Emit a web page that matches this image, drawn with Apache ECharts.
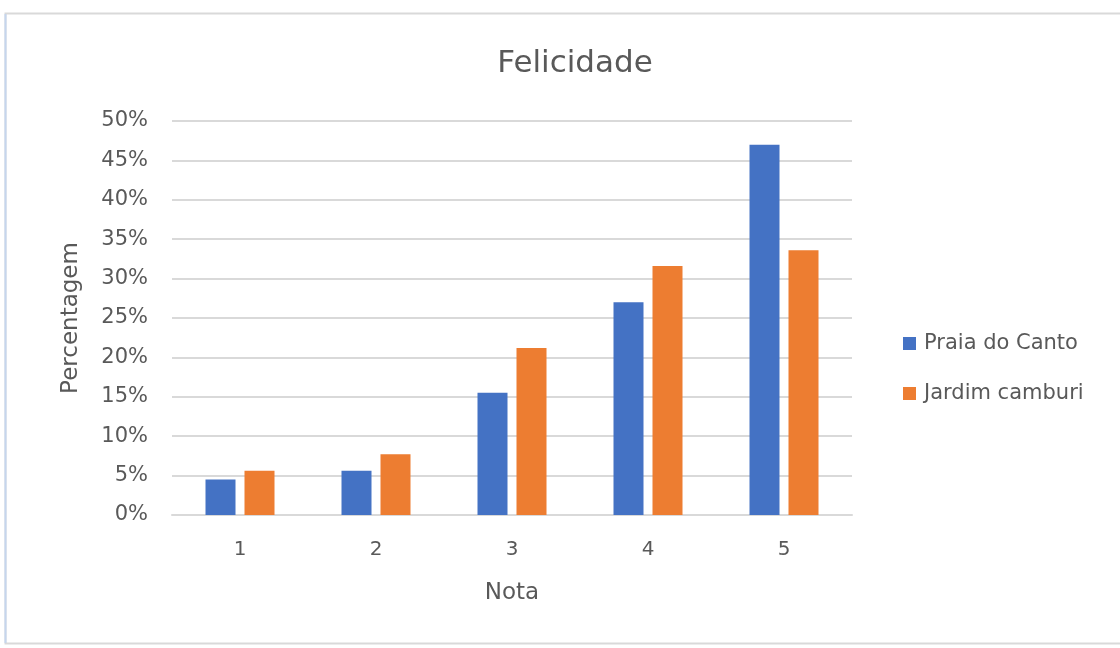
<!DOCTYPE html>
<html>
<head>
<meta charset="utf-8">
<script src="https://cdn.jsdelivr.net/npm/echarts@6/dist/echarts.min.js"></script>
<style>
  html, body { margin: 0; padding: 0; background: #fff; }
  #chart { width: 1120px; height: 648px; }
</style>
</head>
<body>
<div id="chart"></div>
<script>
// Happiness scores (1–5) by neighbourhood, share of respondents in percent
const categories = ['1', '2', '3', '4', '5'];
const praiaDoCanto = [4.5, 5.6, 15.5, 27.0, 47.0];
const jardimCamburi = [5.6, 7.7, 21.2, 31.6, 33.6];
const seriesNames = ['Praia do Canto', 'Jardim camburi'];

const textColor = '#595959';
const fontFamily = '"DejaVu Sans", "Open Sans", sans-serif';

const chart = echarts.init(document.getElementById('chart'), null, { renderer: 'canvas' });

chart.setOption({
  backgroundColor: '#ffffff',
  animation: false,
  textStyle: { fontFamily: fontFamily },
  graphic: [
    {
      type: 'rect',
      shape: { x: 5.5, y: 13.5, width: 1120, height: 630 },
      style: { fill: 'none', stroke: '#d9d9d9', lineWidth: 2 },
      silent: true
    },
    {
      type: 'line',
      shape: { x1: 5.5, y1: 14, x2: 5.5, y2: 643 },
      style: { stroke: '#c5d6ee', lineWidth: 2 },
      silent: true
    }
  ],
  title: {
    text: 'Felicidade',
    left: 570,
    top: 43,
    textAlign: 'center',
    textStyle: { color: textColor, fontSize: 31, fontWeight: 'normal', fontFamily: fontFamily }
  },
  legend: {
    orient: 'vertical',
    left: 903,
    top: 333,
    padding: 0,
    itemWidth: 13,
    itemHeight: 13,
    itemGap: 29,
    icon: 'rect',
    data: seriesNames,
    textStyle: { color: textColor, fontSize: 21, fontFamily: fontFamily, padding: [0, 0, 0, 3] }
  },
  grid: { left: 172, right: 268, top: 121, bottom: 133 },
  xAxis: {
    type: 'category',
    data: categories,
    name: 'Nota',
    nameLocation: 'middle',
    nameGap: 67,
    nameTextStyle: { color: textColor, fontSize: 23, fontFamily: fontFamily },
    axisLine: { show: true, lineStyle: { color: '#d9d9d9', width: 2 } },
    axisTick: { show: false },
    axisLabel: { color: textColor, fontSize: 20, margin: 25, fontFamily: fontFamily }
  },
  yAxis: {
    type: 'value',
    min: 0,
    max: 50,
    interval: 5,
    name: 'Percentagem',
    nameLocation: 'middle',
    nameGap: 89,
    nameRotate: 90,
    nameTextStyle: { color: textColor, fontSize: 23, fontFamily: fontFamily },
    axisLine: { show: false },
    axisTick: { show: false },
    axisLabel: { color: textColor, fontSize: 21, margin: 24, fontFamily: fontFamily, formatter: v => v + '%' },
    splitLine: { lineStyle: { color: '#d9d9d9', width: 2 } }
  },
  series: [
    {
      name: seriesNames[0],
      type: 'bar',
      data: praiaDoCanto,
      barWidth: 30,
      barGap: '30%',
      itemStyle: { color: '#4472C4' }
    },
    {
      name: seriesNames[1],
      type: 'bar',
      data: jardimCamburi,
      barWidth: 30,
      itemStyle: { color: '#ED7D31' }
    }
  ]
});
</script>
</body>
</html>
